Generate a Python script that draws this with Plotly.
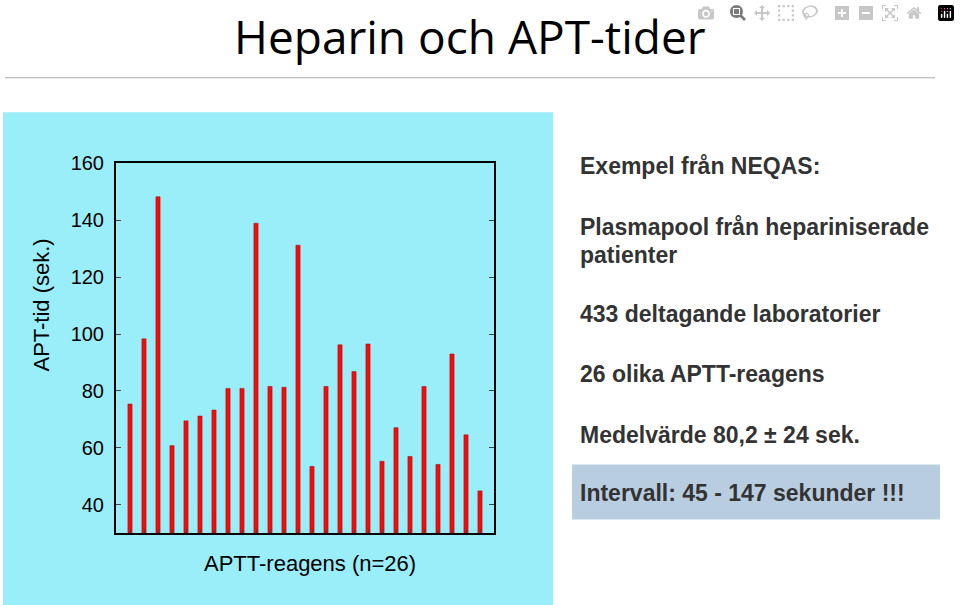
import plotly.graph_objects as go

reagens = list(range(1, 27))
apt_tid = [75.4, 98.3, 148.2, 60.8, 69.5, 71.2, 73.3, 80.9, 80.9, 138.9, 81.6, 81.3, 131.2,
           53.5, 81.6, 96.2, 86.8, 96.5, 55.3, 67.1, 57.0, 81.6, 54.2, 93.0, 64.6, 44.9]
y_ticks = [40, 60, 80, 100, 120, 140, 160]

fig = go.Figure(go.Bar(x=reagens, y=[v - 30 for v in apt_tid], width=0.3, base=30,
                       marker=dict(color="#f20d0d", line=dict(color="#b00000", width=0.5))))

W, H = 960, 605
def px(x): return x / W
def py(y): return 1 - y / H

fig.update_layout(
    width=W, height=H, margin=dict(l=0, r=0, t=0, b=0),
    paper_bgcolor="white", plot_bgcolor="white", showlegend=False,
    font=dict(family="Liberation Sans", color="black"),
    xaxis=dict(domain=[px(116), px(494)], range=[0, 27], showticklabels=False,
               showgrid=False, zeroline=False, showline=True, linecolor="black", linewidth=2,
               mirror=True, ticks="inside", tickvals=reagens, ticklen=4),
    yaxis=dict(domain=[py(532), py(155)], range=[30, 160], tickvals=y_ticks,
               showgrid=False, zeroline=False, showline=True, linecolor="black", linewidth=2,
               mirror="ticks", ticks="inside", ticklen=5, tickfont=dict(size=20), ticklabelstandoff=6),
    shapes=[
        dict(type="rect", xref="paper", yref="paper", x0=px(3), x1=px(553), y0=0, y1=py(103),
             fillcolor="#99eefa", line=dict(width=0), layer="below"),
        dict(type="line", xref="paper", yref="paper", x0=px(5), x1=px(935), y0=py(68), y1=py(68),
             line=dict(color="#aaaaaa", width=1)),
        dict(type="rect", xref="paper", yref="paper", x0=px(572), x1=px(940), y0=py(518), y1=py(462),
             fillcolor="#b9cde0", line=dict(width=0), layer="below"),
    ],
)

RF = "Liberation Sans Narrow, Liberation Sans"
ann = [
    dict(text="Heparin och APT-tider", x=px(470), y=py(25), font=dict(size=46, family="Open Sans"), xanchor="center"),
    dict(text="APT-tid (sek.)", x=px(42), y=py(300), textangle=-90, font=dict(size=22), xanchor="center"),
    dict(text="APTT-reagens (n=26)", x=px(310), y=py(563), font=dict(size=22), xanchor="center"),
    dict(text="<b>Exempel från NEQAS:</b>", x=px(578), y=py(158)),
    dict(text="<b>Plasmapool från hepariniserade</b>", x=px(578), y=py(220)),
    dict(text="<b>patienter</b>", x=px(578), y=py(249)),
    dict(text="<b>433 deltagande laboratorier</b>", x=px(578), y=py(309)),
    dict(text="<b>26 olika APTT-reagens</b>", x=px(578), y=py(370)),
    dict(text="<b>Medelvärde 80,2 ± 24 sek.</b>", x=px(578), y=py(432)),
    dict(text="<b>Intervall: 45 - 147 sekunder !!!</b>", x=px(578), y=py(491)),
]
for a in ann:
    a.setdefault("xanchor", "left")
    a.setdefault("font", dict(size=23, color="#333333", family=RF))
    fig.add_annotation(xref="paper", yref="paper", showarrow=False, yanchor="middle", **a)

fig.write_html("out.html", post_script="document.body.style.margin='0';document.body.style.overflow='hidden';")
